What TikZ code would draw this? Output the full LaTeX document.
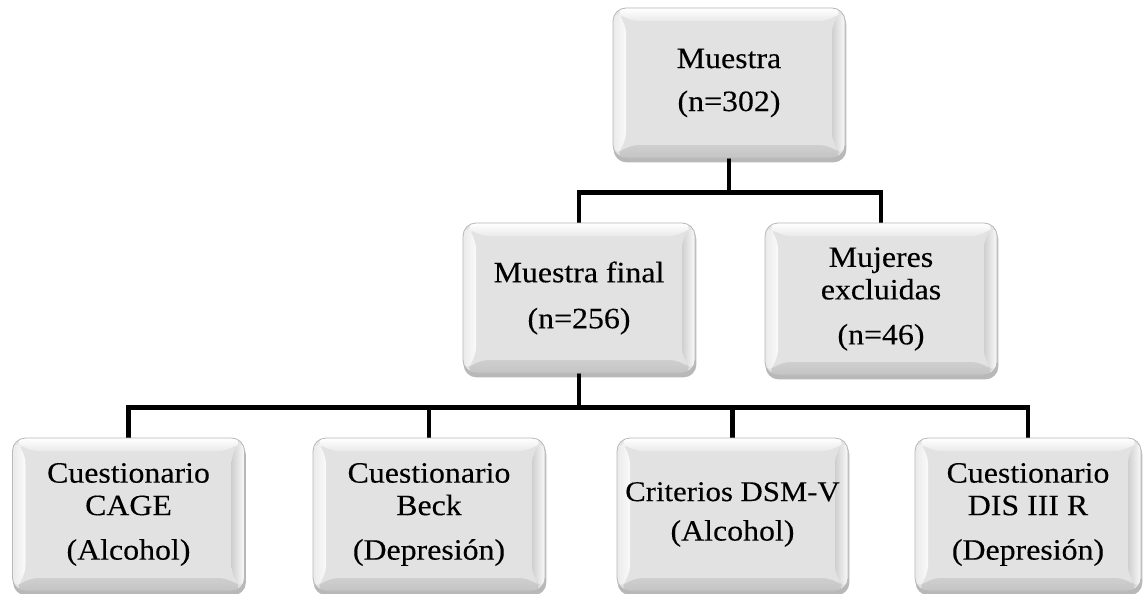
\documentclass[tikz,border=0pt]{standalone}
\usepackage{fontspec}
\setmainfont{Liberation Serif}[FakeStretch=1.08, FakeBold=0.25]
\usetikzlibrary{backgrounds}
\definecolor{boxface}{HTML}{E2E2E2}
\definecolor{boxedge}{HTML}{B8B8B8}
\definecolor{bevlight}{HTML}{FAFAFA}
\definecolor{bevtop}{HTML}{EAEAEA}
\definecolor{bevright}{HTML}{CFCFCF}
\definecolor{bevbot}{HTML}{C4C4C4}
\newcommand{\bevw}{13pt}
\tikzset{
  bevelbox/.style={rectangle, rounded corners=13pt, draw=boxedge, line width=0.8pt,
    fill=boxface, align=center, inner sep=0pt,
    minimum width=232pt, minimum height=150pt,
    font=\fontsize{29.5}{32.5}\selectfont,
    path picture={
      \path (path picture bounding box.north west) coordinate (pNW)
            (path picture bounding box.north east) coordinate (pNE)
            (path picture bounding box.south west) coordinate (pSW)
            (path picture bounding box.south east) coordinate (pSE);
      \shade[top color=white, bottom color=bevtop]
        (pNW) -- (pNE) -- ([shift={(-\bevw,-\bevw)}]pNE) -- ([shift={(\bevw,-\bevw)}]pNW) -- cycle;
      \shade[left color=bevtop, right color=bevlight]
        (pNW) -- (pSW) -- ([shift={(\bevw,\bevw)}]pSW) -- ([shift={(\bevw,-\bevw)}]pNW) -- cycle;
      \shade[left color=bevright, right color=bevlight]
        (pNE) -- (pSE) -- ([shift={(-\bevw,\bevw)}]pSE) -- ([shift={(-\bevw,-\bevw)}]pNE) -- cycle;
      \shade[top color=bevright, bottom color=bevbot]
        (pSW) -- (pSE) -- ([shift={(-\bevw,\bevw)}]pSE) -- ([shift={(\bevw,\bevw)}]pSW) -- cycle;
    }},
  boxshadow/.style={fill=black, opacity=0.28, rounded corners=13pt},
  conn/.style={line width=4.5pt, black},
}
\begin{document}
\begin{tikzpicture}[x=1pt,y=-1pt]
\useasboundingbox (0,0) rectangle (1143,594);
% boxes
\node[bevelbox] (top) at (729,83) {Muestra\\[10.5pt](n=302)};
\node[bevelbox] (ml) at (579,298) {Muestra final\\[13.5pt](n=256)};
\node[bevelbox, minimum height=152pt] (mr) at (881,299) {Mujeres\\excluidas\\[12.5pt](n=46)};
\node[bevelbox, minimum height=153pt] (b1) at (128.5,514.5) {Cuestionario\\CAGE\\[12pt](Alcohol)};
\node[bevelbox, minimum height=153pt] (b2) at (429,514.5) {Cuestionario\\Beck\\[12pt](Depresión)};
\node[bevelbox, minimum height=153pt, minimum width=231pt] (b3) at (732.5,514.5) {{\fontsize{28.5}{32.5}\selectfont Criterios DSM-V}\\[7pt](Alcohol)};
\node[bevelbox, minimum height=153pt, minimum width=226pt] (b4) at (1028,514.5) {Cuestionario\\DIS III R\\[12pt](Depresión)};
\begin{pgfonlayer}{background}
  \fill[white] (0,0) rectangle (1143,594);
  \foreach \n in {top,ml,mr,b1,b2,b3,b4}{
    \fill[boxshadow] ([shift={(1pt,-4pt)}]\n.north west) rectangle ([shift={(1pt,-4pt)}]\n.south east);
  }
  % connectors
  \draw[conn] (top.south) -- ++(0,34) coordinate (j1);
  \draw[conn] (ml.north) |- (j1) -| (mr.north);
  \draw[conn] (ml.south) -- ++(0,34) coordinate (j2);
  \draw[conn] (b1.north) |- (j2) -| (b4.north);
  \draw[conn] (b2.north) -- (b2.north |- j2);
  \draw[conn] (b3.north) -- (b3.north |- j2);
\end{pgfonlayer}
\end{tikzpicture}
\end{document}
